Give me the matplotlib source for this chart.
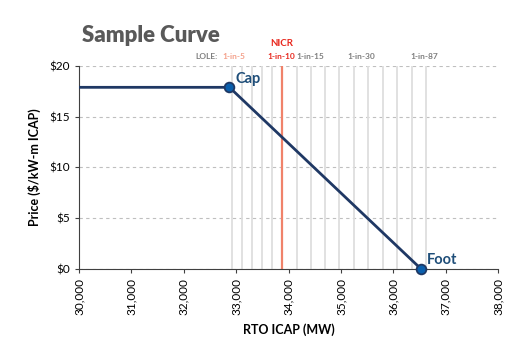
import numpy as np
import matplotlib.pyplot as plt
from matplotlib.ticker import FuncFormatter

plt.rcParams['font.family'] = ['Lato', 'DejaVu Sans']

# demand curve points (MW, $/kW-m)
curve_mw = [30000, 32870, 36530]
curve_price = [17.9, 17.9, 0]
point_names = ['Cap', 'Foot']
point_mw = [32870, 36530]
point_price = [17.9, 0]

# reliability lines
nicr_mw = 33870
lole_lines = [32915, 33105, 33295, 33485, 33675, 34155, 34420, 34695,
              34970, 35250, 35520, 35795, 36075, 36350, 36620]
lole_labels = ['1-in-5', '1-in-10', '1-in-15', '1-in-30', '1-in-87']
lole_label_mw = [32960, 33870, 34420, 35380, 36600]
lole_label_colors = ['#f4a08a', '#e8281e', '#7f7f7f', '#7f7f7f', '#7f7f7f']

fig = plt.figure(figsize=(5.31, 3.53), dpi=100)
ax = fig.add_axes([0.149, 0.238, 0.789, 0.575])

for x in lole_lines:
    ax.axvline(x, color='#dedede', lw=1.3, zorder=1)
ax.axvline(nicr_mw, color='#f0826a', lw=1.6, zorder=2)

ax.plot(curve_mw, curve_price, color='#1f3864', lw=2, zorder=3)
ax.plot(point_mw, point_price, 'o', ms=7, mfc='#0a5fad', mec='#1f3864',
        mew=1.3, zorder=4, clip_on=False)
ax.text(point_mw[0] + 120, point_price[0] + 0.1, point_names[0], color='#1f4e79',
        fontsize=10.5, fontweight='bold', va='bottom', ha='left')
ax.text(point_mw[1] + 110, point_price[1] + 0.2, point_names[1], color='#1f4e79',
        fontsize=10.5, fontweight='bold', va='bottom', ha='left')

ax.set_xlim(30000, 38000)
ax.set_ylim(0, 20)
ax.set_xticks(np.arange(30000, 38001, 1000))
ax.set_yticks(np.arange(0, 21, 5))
ax.xaxis.set_major_formatter(FuncFormatter(lambda v, p: f'{int(v):,}'))
ax.yaxis.set_major_formatter(FuncFormatter(lambda v, p: f'${int(v)}'))
plt.setp(ax.get_xticklabels(), rotation=90)
ax.tick_params(labelsize=8.5, length=3, color='#404040')
ax.yaxis.grid(True, color='#bfbfbf', ls=(0, (3, 3)), lw=0.8)
ax.set_axisbelow(True)
for s in ['top', 'right']:
    ax.spines[s].set_visible(False)
ax.spines['left'].set_color('#404040')
ax.spines['bottom'].set_color('#404040')

ax.set_xlabel('RTO ICAP (MW)', fontsize=9, fontweight='bold', labelpad=6)
ax.set_ylabel('Price ($/kW-m ICAP)', fontsize=9, fontweight='bold', labelpad=6)

# LOLE labels above plot
ax.text(32640, 20.9, 'LOLE:', fontsize=6, color='#7f7f7f', ha='right', va='center',
        fontweight='bold')
for x, lab, c in zip(lole_label_mw, lole_labels, lole_label_colors):
    ax.text(x, 20.9, lab, fontsize=6, color=c, ha='center', va='center', fontweight='bold')
ax.text(nicr_mw, 22.2, 'NICR', fontsize=7, color='#e8281e', ha='center',
        va='center', fontweight='bold')

fig.text(0.285, 0.9, 'Sample Curve', fontsize=16, fontweight='heavy',
         color='#595959', ha='center', va='center')

fig.savefig('out.png', dpi=100)
